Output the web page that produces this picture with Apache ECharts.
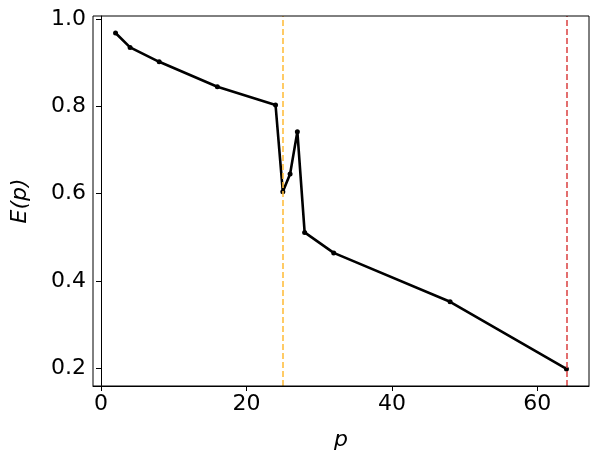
<!DOCTYPE html><html><head><meta charset="utf-8">
<script src="https://cdn.jsdelivr.net/npm/echarts@6/dist/echarts.min.js"></script>
<style>html,body{margin:0;padding:0;background:#fff}#c{width:599px;height:459px}</style></head>
<body><div id="c"></div><script>
const pValues=[2,4,8,16,24,25,26,27,28,32,48,64];
const eValues=[0.968,0.935,0.902,0.845,0.803,0.604,0.645,0.742,0.511,0.464,0.352,0.198];
const xTicks=[0,20,40,60];
const yTicks=[0.2,0.4,0.6,0.8,1.0];
const vlines=[{x:25,color:'#ffbf40'},{x:64,color:'#dd4b4b'}];
const font='DejaVu Sans';
const chart=echarts.init(document.getElementById('c'));
chart.setOption({
animation:false,
grid:{left:93,right:10,top:16,bottom:73},
xAxis:{type:'value',min:-1.1,max:67.1,
 axisLine:{onZero:false,lineStyle:{color:'#000'}},
 axisTick:{show:true,length:5,lineStyle:{color:'#000'},customValues:xTicks},
 axisLabel:{customValues:xTicks,color:'#000',fontSize:22,fontFamily:font,margin:7},
 splitLine:{show:false},
 name:'p',nameLocation:'middle',nameGap:43,nameTextStyle:{fontSize:22,fontStyle:'italic',fontFamily:font,color:'#000'}},
yAxis:{type:'value',min:0.159,max:1.007,
 axisLine:{show:true,lineStyle:{color:'#000'}},
 axisTick:{show:true,length:5,lineStyle:{color:'#000'},customValues:yTicks},
 axisLabel:{customValues:yTicks,color:'#000',fontSize:22,fontFamily:font,margin:7,formatter:v=>v.toFixed(1)},
 splitLine:{show:false},
 name:'E(p)',nameLocation:'middle',nameGap:62,nameTextStyle:{fontSize:22,fontStyle:'italic',fontFamily:font,color:'#000'}},
series:[
 {type:'line',data:pValues.map((p,i)=>[p,eValues[i]]),symbol:'circle',symbolSize:5,
  lineStyle:{color:'#000',width:2.6},itemStyle:{color:'#000'},z:3},
 ...vlines.map(v=>({type:'line',data:[],markLine:{symbol:'none',silent:true,label:{show:false},
   lineStyle:{color:v.color,type:[6,3],width:1.6},data:[{xAxis:v.x}]}}))
]});
chart.setOption({graphic:[{type:'rect',shape:{x:93,y:16,width:496,height:370},style:{fill:'none',stroke:'#000',lineWidth:1},z:10,silent:true}]});
</script></body></html>
